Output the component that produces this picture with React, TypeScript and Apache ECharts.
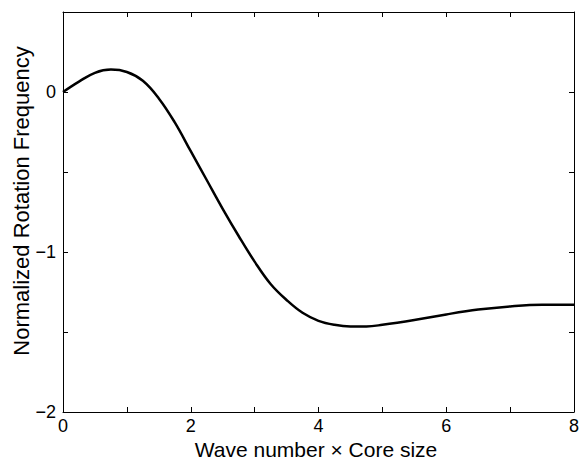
import React, { useEffect, useRef } from "react";
import * as echarts from "echarts";

const xValues = [0, 0.25, 0.5, 0.75, 1, 1.25, 1.5, 1.75, 2, 2.25, 2.5, 2.75, 3, 3.25, 3.5, 3.75, 4, 4.25, 4.5, 4.75, 5, 5.5, 6, 6.5, 7, 7.5, 8];
const yValues = [0, 0.065, 0.12, 0.14, 0.125, 0.07, -0.04, -0.19, -0.37, -0.55, -0.73, -0.9, -1.06, -1.2, -1.3, -1.38, -1.43, -1.455, -1.465, -1.465, -1.455, -1.425, -1.39, -1.36, -1.34, -1.33, -1.33];
const xTickLabels = ["0", "2", "4", "6", "8"];
const yTickLabels = ["0", "−1", "−2"];
const xTitle = "Wave number × Core size";
const yTitle = "Normalized Rotation Frequency";

const fmtY = (v: number) => {
  if (!Number.isInteger(v)) return "";
  const s = v < 0 ? "−" + Math.abs(v) : String(v);
  return yTickLabels.includes(s) ? s : "";
};
const fmtX = (v: number) => {
  const s = String(v);
  return xTickLabels.includes(s) ? s : "";
};

export default function App() {
  const ref = useRef<HTMLDivElement>(null);
  useEffect(() => {
    const chart = echarts.init(ref.current!, null, { renderer: "svg" });
    const font = "Liberation Sans";
    const axisLine = { show: true, onZero: false, lineStyle: { color: "#000", width: 1 } };
    const tick = { show: true, inside: true, length: 5, lineStyle: { color: "#000", width: 1 } };
    const titleStyle = {
      fontFamily: font,
      fill: "#000",
      align: "center",
      verticalAlign: "middle",
      textAlign: "center",
      textVerticalAlign: "middle",
    };
    chart.setOption({
      animation: false,
      backgroundColor: "#fff",
      grid: { left: 63, right: 9, top: 12, bottom: 50, containLabel: false, outerBoundsMode: "none" },
      graphic: [
        { type: "text", x: 21, y: 201, rotation: Math.PI / 2, style: { ...titleStyle, fontSize: 22, text: yTitle } },
        { type: "text", x: 316, y: 449, style: { ...titleStyle, fontSize: 21, text: xTitle } },
      ],
      xAxis: [
        {
          type: "value", min: 0, max: 8, interval: 1, position: "bottom",
          axisLine, axisTick: tick, splitLine: { show: false },
          axisLabel: { formatter: fmtX, color: "#000", fontFamily: font, fontSize: 18, margin: 5 },
        },
        {
          type: "value", min: 0, max: 8, interval: 1, position: "top",
          axisLine, axisTick: tick, splitLine: { show: false }, axisLabel: { show: false },
        },
      ],
      yAxis: [
        {
          type: "value", min: -2, max: 0.5, interval: 0.5, position: "left",
          axisLine, axisTick: tick, splitLine: { show: false },
          axisLabel: { formatter: fmtY, color: "#000", fontFamily: font, fontSize: 18, margin: 7 },
        },
        {
          type: "value", min: -2, max: 0.5, interval: 0.5, position: "right",
          axisLine, axisTick: tick, splitLine: { show: false }, axisLabel: { show: false },
        },
      ],
      series: [
        {
          type: "line",
          data: xValues.map((x, i) => [x, yValues[i]]),
          smooth: 0.4,
          showSymbol: false,
          lineStyle: { color: "#000", width: 2.5 },
          xAxisIndex: 0, yAxisIndex: 0,
        },
      ],
    });
    return () => chart.dispose();
  }, []);
  return <div ref={ref} style={{ width: 583, height: 462, position: "absolute", left: 0, top: 0 }} />;
}
